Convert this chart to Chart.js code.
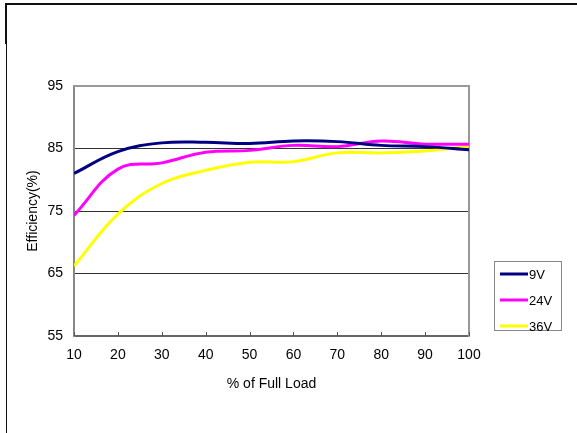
<!DOCTYPE html>
<html>
<head>
<meta charset="utf-8">
<script src="https://cdn.jsdelivr.net/npm/chart.js@4"></script>
<style>
  html, body { margin: 0; padding: 0; background: #fff; }
  #wrap { width: 577px; height: 433px; }
</style>
</head>
<body>
<div id="wrap"><canvas id="grafik" width="577" height="433"></canvas></div>
<script>
// % of full load
const beban = [10, 20, 30, 40, 50, 60, 70, 80, 90, 100];
const label = ["9V", "24V", "36V"];
const warna = ["#000080", "#ff00ff", "#ffff00"];
// efficiency (%)
const eff9 = [81.0, 84.5, 85.9, 86.0, 85.8, 86.2, 86.1, 85.5, 85.3, 84.8];
const eff24 = [74.3, 81.7, 82.7, 84.4, 84.7, 85.5, 85.3, 86.2, 85.7, 85.7];
const eff36 = [66.2, 74.5, 79.4, 81.5, 82.8, 82.9, 84.3, 84.3, 84.6, 85.4];

const fontDasar = { family: "'Liberation Sans', Arial, sans-serif", size: 14 };

function buatData(arr) {
    return beban.map((b, i) => ({ x: b, y: arr[i] }));
}

// frame, inner tick marks and the boxed legend
const hiasan = {
    id: "hiasan",
    afterDraw(chart) {
        let ctx = chart.ctx;
        let area = chart.chartArea;
        let sx = chart.scales.x;
        ctx.save();

        // outer frame (cropped screenshot border)
        ctx.strokeStyle = "#111";
        ctx.lineWidth = 2;
        ctx.beginPath();
        ctx.moveTo(6, 44);
        ctx.lineTo(6, 4);
        ctx.lineTo(577, 4);
        ctx.stroke();
        ctx.lineWidth = 1;
        ctx.beginPath();
        ctx.moveTo(6.5, 44);
        ctx.lineTo(6.5, 433);
        ctx.stroke();

        // small tick marks on x axis, pointing inward
        ctx.strokeStyle = "#555";
        ctx.lineWidth = 1;
        ctx.beginPath();
        beban.forEach(b => {
            let px = Math.round(sx.getPixelForValue(b)) + 0.5;
            ctx.moveTo(px, area.bottom);
            ctx.lineTo(px, area.bottom - 4);
        });
        ctx.stroke();

        // legend
        ctx.strokeStyle = "#888";
        ctx.lineWidth = 1;
        ctx.strokeRect(494.5, 261.5, 67, 69);
        ctx.font = "13px 'Liberation Sans', Arial, sans-serif";
        ctx.fillStyle = "#000";
        ctx.textBaseline = "middle";
        chart.data.datasets.forEach((ds, i) => {
            let y = 274 + i * 26;
            ctx.strokeStyle = ds.borderColor;
            ctx.lineWidth = 3;
            ctx.beginPath();
            ctx.moveTo(500, y);
            ctx.lineTo(528, y);
            ctx.stroke();
            ctx.fillText(ds.label, 529, y + 1);
        });
        ctx.restore();
    }
};

let ctx = document.getElementById("grafik").getContext("2d");
new Chart(ctx, {
    type: "line",
    data: {
        datasets: [
            { label: label[0], data: buatData(eff9), borderColor: warna[0] },
            { label: label[1], data: buatData(eff24), borderColor: warna[1] },
            { label: label[2], data: buatData(eff36), borderColor: warna[2] }
        ].map(ds => Object.assign(ds, {
            borderWidth: 3,
            pointRadius: 0,
            tension: 0.4,
            fill: false
        }))
    },
    options: {
        responsive: false,
        animation: false,
        layout: { padding: { left: 21, top: 86, right: 108, bottom: 36 } },
        plugins: {
            legend: { display: false },
            tooltip: { enabled: false }
        },
        scales: {
            x: {
                type: "linear",
                min: 10,
                max: 100,
                ticks: { stepSize: 10, color: "#000", font: fontDasar, padding: 11, maxRotation: 0 },
                grid: { display: false, drawTicks: false },
                border: { display: true, color: "#666", width: 2 },
                title: { display: true, text: "% of Full Load", color: "#000", font: fontDasar },
                afterFit(scale) { scale.height = 61; }
            },
            y: {
                min: 55,
                max: 95,
                ticks: { stepSize: 10, color: "#000", font: fontDasar, padding: 11 },
                grid: { color: "#333", drawTicks: false },
                border: { display: true, color: "#888", width: 2 },
                title: { display: true, text: "Efficiency(%)", color: "#000", font: fontDasar },
                afterFit(scale) { scale.width = 53; }
            },
            kanan: {
                position: "right",
                display: true,
                min: 55,
                max: 95,
                ticks: { display: false },
                grid: { display: false, drawTicks: false },
                border: { display: true, color: "#999", width: 2 },
                afterFit(scale) { scale.width = 0; }
            },
            atas: {
                type: "linear",
                position: "top",
                display: true,
                min: 10,
                max: 100,
                ticks: { display: false },
                grid: { display: false, drawTicks: false },
                border: { display: true, color: "#999", width: 2 },
                afterFit(scale) { scale.height = 0; }
            }
        }
    },
    plugins: [hiasan]
});
</script>
</body>
</html>
